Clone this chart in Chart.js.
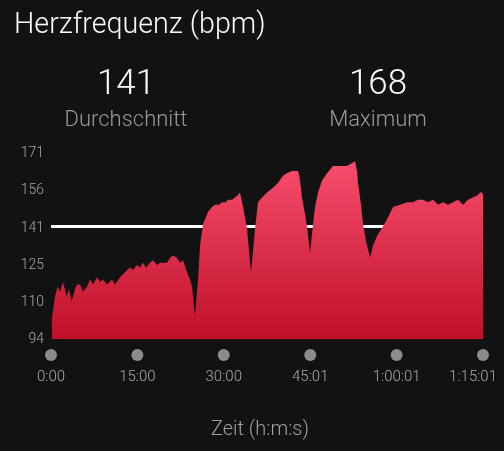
<!DOCTYPE html>
<html>

<head>
    <title>Herzfrequenz</title>
    <script src="https://cdn.jsdelivr.net/npm/chart.js"></script>
    <style>
        body {
            background-color: #121212;
            font-family: "Roboto Light", Roboto, "Noto Sans", sans-serif;
            margin: 0;
            padding: 0;
            width: 504px;
            height: 451px;
            overflow: hidden;
            position: relative;
        }

        .title {
            position: absolute;
            left: 14px;
            top: 6px;
            color: #fff;
            font-size: 28.7px;
            font-weight: 300;
            white-space: nowrap;
        }

        .stat {
            position: absolute;
            top: 61px;
            width: 252px;
            text-align: center;
        }

        .stat .value {
            color: #fff;
            font-size: 35px;
            font-weight: 300;
            line-height: 44px;
        }

        .stat .label {
            color: #9a9a9a;
            font-size: 22px;
            font-weight: 300;
            line-height: 28px;
        }

        #hr-chart {
            position: absolute;
            left: 0;
            top: 0;
        }
    </style>
</head>

<body>
    <canvas id="hr-chart" width="504" height="451"></canvas>
    <div class="title">Herzfrequenz (bpm)</div>
    <div class="stat" style="left:0">
        <div class="value" id="avg-value"></div>
        <div class="label">Durchschnitt</div>
    </div>
    <div class="stat" style="left:252px">
        <div class="value" id="max-value"></div>
        <div class="label">Maximum</div>
    </div>

    <script>
        // Zeit in Sekunden seit Start
        const hrTime = [
            0, 10, 42, 68, 94, 125, 162, 188, 214, 250,
            271, 302, 333, 375, 406, 438, 479, 511, 542, 584,
            636, 667, 719, 771, 823, 854, 896, 927, 959, 990,
            1032, 1063, 1105, 1136, 1167, 1209, 1240, 1271, 1313, 1344,
            1375, 1417, 1448, 1469, 1500, 1532, 1553, 1584, 1636, 1678,
            1709, 1751, 1782, 1824, 1844, 1886, 1917, 1949, 1969, 2001,
            2042, 2063, 2084, 2105, 2126, 2157, 2199, 2251, 2313, 2365,
            2417, 2459, 2511, 2574, 2595, 2615, 2647, 2667, 2699, 2730,
            2751, 2782, 2824, 2876, 2938, 3011, 3084, 3126, 3168, 3188,
            3199, 3230, 3251, 3282, 3324, 3355, 3397, 3428, 3459, 3501,
            3564, 3637, 3710, 3772, 3824, 3876, 3928, 3980, 4033, 4085,
            4137, 4189, 4241, 4293, 4345, 4397, 4449, 4470, 4491, 4501
        ];
        // Herzfrequenz (bpm)
        const hrBpm = [
            94, 103, 112, 116, 114, 118, 112, 115, 110, 115,
            117, 117, 114, 116, 119, 117, 120, 118, 119, 117,
            119, 117, 120, 122, 124, 123, 125, 124, 126, 124,
            126, 127, 125, 126, 126, 126, 128, 129, 128, 126,
            127, 122, 119, 116, 104, 119, 133, 142, 147, 149,
            150, 150, 151, 151, 152, 152, 153, 154, 155, 149,
            140, 131, 122, 131, 140, 151, 153, 155, 157, 159,
            162, 163, 164, 164, 160, 153, 146, 141, 130, 142,
            149, 155, 160, 163, 166, 166, 166, 167, 168, 164,
            159, 150, 142, 135, 128, 133, 137, 139, 141, 144,
            149, 150, 151, 151, 152, 152, 151, 152, 150, 151,
            150, 151, 152, 150, 152, 153, 154, 155, 155, 154
        ];
        const avgBpm = 141;
        const maxBpm = 168;
        const yMin = 94.4;
        const yMax = 171.4;
        const yTickCount = 6;
        const xTickValues = [0, 900, 1800, 2701, 3601, 4501];
        const xTitle = 'Zeit (h:m:s)';

        document.getElementById('avg-value').textContent = avgBpm;
        document.getElementById('max-value').textContent = maxBpm;

        function formatTime(sec) {
            const h = Math.floor(sec / 3600);
            const m = Math.floor((sec % 3600) / 60);
            const s = sec % 60;
            const ss = String(s).padStart(2, '0');
            if (h > 0) {
                return h + ':' + String(m).padStart(2, '0') + ':' + ss;
            }
            return m + ':' + ss;
        }

        // Punkte, Zeitbeschriftungen und Achsentitel unter dem Diagramm
        const timeDots = {
            id: 'timeDots',
            afterDraw(chart) {
                const ctx = chart.ctx;
                const xs = chart.scales.x;
                const bottom = chart.chartArea.bottom;
                ctx.save();
                ctx.font = '300 15px "Roboto Light", Roboto';
                ctx.textAlign = 'center';
                ctx.textBaseline = 'middle';
                xs.ticks.forEach(t => {
                    const px = xs.getPixelForValue(t.value);
                    ctx.fillStyle = '#8c8c8c';
                    ctx.beginPath();
                    ctx.arc(px, bottom + 16, 6, 0, Math.PI * 2);
                    ctx.fill();
                    const label = formatTime(t.value);
                    const w = ctx.measureText(label).width;
                    const lx = Math.min(px, chart.width - 7 - w / 2);
                    ctx.fillStyle = '#a8a8a8';
                    ctx.fillText(label, lx, bottom + 38);
                });
                ctx.font = '300 20px "Roboto Light", Roboto';
                ctx.fillStyle = '#a0a0a0';
                ctx.fillText(xTitle, chart.width / 2 + 8, bottom + 90);
                ctx.restore();
            }
        };

        const ctx = document.getElementById('hr-chart').getContext('2d');
        const hrChart = new Chart(ctx, {
            type: 'line',
            data: {
                datasets: [{
                    label: 'Herzfrequenz',
                    data: hrTime.map((t, i) => ({ x: t, y: hrBpm[i] })),
                    borderWidth: 0,
                    pointRadius: 0,
                    tension: 0,
                    fill: 'start',
                    backgroundColor: function (context) {
                        const area = context.chart.chartArea;
                        if (!area) {
                            return '#d8203f';
                        }
                        const g = context.chart.ctx.createLinearGradient(0, area.top, 0, area.bottom);
                        g.addColorStop(0, '#fa506f');
                        g.addColorStop(1, '#c0102a');
                        return g;
                    }
                }, {
                    label: 'Durchschnitt',
                    data: [{ x: hrTime[0], y: avgBpm }, { x: hrTime[hrTime.length - 1], y: avgBpm }],
                    borderColor: '#ffffff',
                    borderWidth: 3,
                    pointRadius: 0,
                    fill: false
                }]
            },
            plugins: [timeDots],
            options: {
                responsive: false,
                animation: false,
                layout: {
                    padding: { top: 153, right: 21, left: 0, bottom: 0 }
                },
                plugins: {
                    legend: { display: false },
                    tooltip: { enabled: false }
                },
                scales: {
                    x: {
                        type: 'linear',
                        min: 0,
                        max: 4501,
                        grid: { display: false, drawTicks: false },
                        border: { display: false },
                        ticks: { display: false },
                        afterBuildTicks: scale => {
                            scale.ticks = xTickValues.map(v => ({ value: v }));
                        },
                        afterFit: scale => {
                            scale.height = 112;
                        }
                    },
                    y: {
                        min: yMin,
                        max: yMax,
                        grid: { display: false, drawTicks: false },
                        border: { display: false },
                        afterBuildTicks: scale => {
                            const step = (yMax - yMin) / (yTickCount - 1);
                            scale.ticks = [];
                            for (let i = 0; i < yTickCount; i++) {
                                scale.ticks.push({ value: yMin + i * step });
                            }
                        },
                        afterFit: scale => {
                            scale.width = 51;
                        },
                        ticks: {
                            color: '#a8a8a8',
                            font: { family: '"Roboto Light", Roboto', size: 14, weight: 300 },
                            padding: 7,
                            callback: v => Math.round(v)
                        }
                    }
                }
            }
        });
    </script>
</body>

</html>
